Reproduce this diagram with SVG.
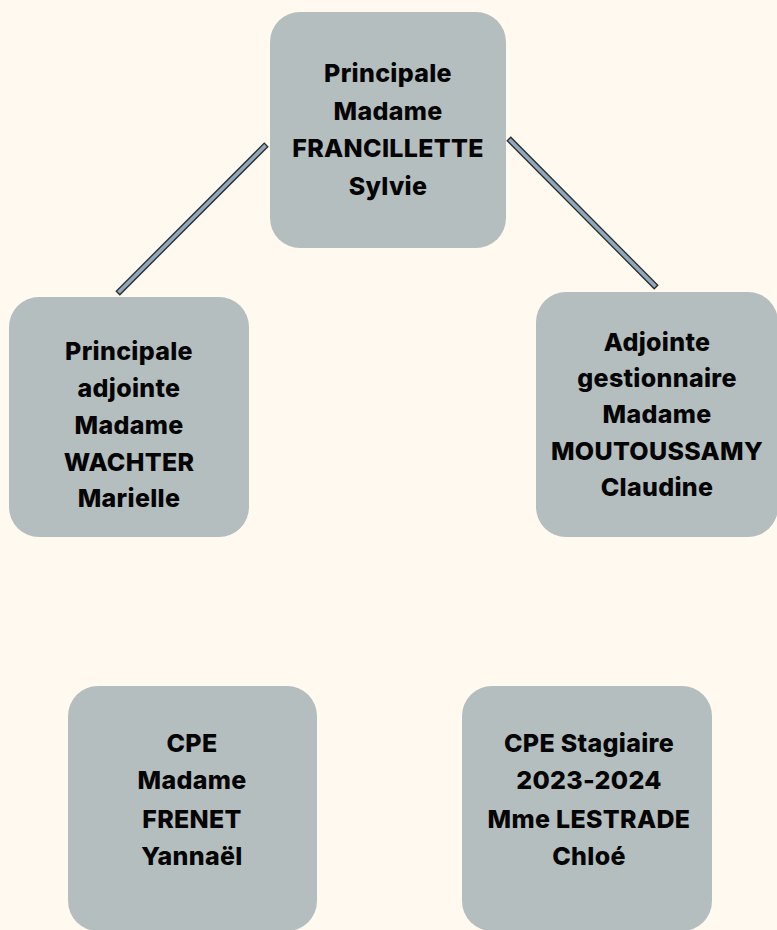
<svg xmlns="http://www.w3.org/2000/svg" width="777" height="930" viewBox="0 0 777 930">
<style>
.bg{fill:#FFF9F0}
.box{fill:#B5BEBE}
.conn{fill:#8EA9BF;stroke:#2A2A2A;stroke-width:1.3}
text{font-family:Inter,"Liberation Sans","DejaVu Sans",sans-serif;font-weight:800;font-size:25px;letter-spacing:0.3px;fill:#050505;text-anchor:middle}
</style>
<rect class="bg" x="0" y="0" width="777" height="930"/>
<g id="connectors">
<rect class="conn" x="-104.6" y="-2.5" width="209.3" height="5" transform="translate(192,219) rotate(-45)"/>
<rect class="conn" x="-104.3" y="-2.5" width="208.6" height="5" transform="translate(582.5,213) rotate(45.2)"/>
</g>
<g id="principale">
<rect class="box" x="270" y="12" width="236" height="236" rx="30"/>
<text x="388" y="82">Principale</text>
<text x="388" y="120">Madame</text>
<text x="388" y="157">FRANCILLETTE</text>
<text x="388" y="195">Sylvie</text>
</g>
<g id="adjointe">
<rect class="box" x="9" y="297" width="240" height="240" rx="30"/>
<text x="129" y="360">Principale</text>
<text x="129" y="397">adjointe</text>
<text x="129" y="434">Madame</text>
<text x="129" y="471">WACHTER</text>
<text x="129" y="507">Marielle</text>
</g>
<g id="gestionnaire">
<rect class="box" x="536" y="292" width="242" height="245" rx="30"/>
<text x="657" y="351">Adjointe</text>
<text x="657" y="387">gestionnaire</text>
<text x="657" y="423">Madame</text>
<text x="657" y="460">MOUTOUSSAMY</text>
<text x="657" y="496">Claudine</text>
</g>
<g id="cpe">
<rect class="box" x="68" y="686" width="249" height="245" rx="30"/>
<text x="192" y="752">CPE</text>
<text x="192" y="789">Madame</text>
<text x="192" y="828">FRENET</text>
<text x="192" y="865">Yannaël</text>
</g>
<g id="cpe-stagiaire">
<rect class="box" x="462" y="686" width="250" height="245" rx="30"/>
<text x="589" y="752">CPE Stagiaire</text>
<text x="589" y="789">2023-2024</text>
<text x="589" y="828">Mme LESTRADE</text>
<text x="589" y="865">Chloé</text>
</g>
</svg>
